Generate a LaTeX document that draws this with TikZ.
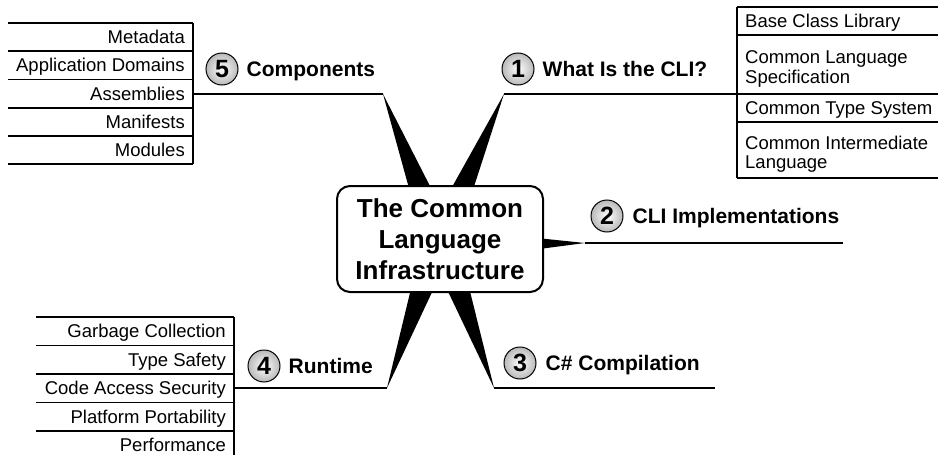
\documentclass[tikz,border=0pt]{standalone}
\usepackage{fontspec}
\setmainfont{Liberation Sans}
\usetikzlibrary{positioning}
\tikzset{
  hub/.style={
    draw,
    line width=2pt,
    rounded corners=13pt,
    fill=white,
    minimum width=206pt,
    minimum height=106pt,
    align=center,
    font=\fontsize{26}{31}\selectfont\bfseries
  },
}
\tikzset{
  num/.style={
    shape=circle,
    draw,
    line width=1pt,
    inner color=white,
    outer color=gray!55,
    minimum size=32pt,
    inner sep=0pt,
    font=\fontsize{25}{25}\selectfont\bfseries
  },
}
\tikzset{
  topic/.style={
    inner sep=0pt,
    text height=15pt,
    text depth=0pt,
    font=\fontsize{21}{21}\selectfont\bfseries
  },
  leafL/.style={
    anchor=east,
    inner sep=0pt,
    text height=13.3pt,
    text depth=0pt,
    font=\fontsize{18.5}{18.5}\selectfont
  },
  leafR/.style={
    anchor=west,
    inner sep=0pt,
    text height=13.3pt,
    text depth=0pt,
    font=\fontsize{18.5}{18.5}\selectfont
  },
  leafRm/.style={
    anchor=west,
    inner sep=0pt,
    align=left,
    font=\fontsize{18.5}{19.5}\selectfont
  },
  branch/.style={
    line width=2pt
  },
  rule/.style={
    line width=1.8pt
  },
  spoke/.style={
    fill=black
  }
}

\begin{document}
\begin{tikzpicture}[x=1pt,y=-1pt]
        \useasboundingbox (0,0) rectangle (938,455);

        \coordinate (mid) at (440,239);
        \coordinate (tip1) at (504,94);
        \coordinate (tip2) at (585,243);
        \coordinate (tip3) at (494,388);
        \coordinate (tip4) at (387,388);
        \coordinate (tip5) at (383,94);
        \coordinate (end1) at (737,94);
        \coordinate (end2) at (843,243);
        \coordinate (end3) at (715,388);
        \coordinate (end4) at (234,388);
        \coordinate (end5) at (193,94);

        % spokes behind the hub
        \fill[spoke] (tip1) -- ([xshift=-17pt]mid) -- ([xshift=17pt]mid) -- cycle;
        \fill[spoke] (tip3) -- ([xshift=-17pt]mid) -- ([xshift=17pt]mid) -- cycle;
        \fill[spoke] (tip4) -- ([xshift=-17pt]mid) -- ([xshift=17pt]mid) -- cycle;
        \fill[spoke] (tip5) -- ([xshift=-17pt]mid) -- ([xshift=17pt]mid) -- cycle;
        \fill[spoke] (tip2) -- ([yshift=11pt]mid) -- ([yshift=-23pt]mid) -- cycle;

        \node[hub] (hub) at (mid) {The Common\\Language\\Infrastructure};

        \draw[branch] (tip1) -- (end1);
        \draw[branch] (tip2) -- (end2);
        \draw[branch] (tip3) -- (end3);
        \draw[branch] (end4) -- (tip4);
        \draw[branch] (end5) -- (tip5);

        \node[num] (n1) at (518,69) {1};
        \node[num] (n2) at (607,216) {2};
        \node[num] (n3) at (520,363) {3};
        \node[num] (n4) at (264,366) {4};
        \node[num] (n5) at (222,69) {5};
        \node[topic, right=8pt of n1] (t1) {What Is the CLI?};
        \node[topic, right=9pt of n2] (t2) {CLI Implementations};
        \node[topic, right=9pt of n3] (t3) {C\# Compilation};
        \node[topic, right=8pt of n4] (t4) {Runtime};
        \node[topic, right=8pt of n5] (t5) {Components};

        % what is the cli
        \foreach \y in {7,35,94,122,178} \draw[rule] (737,\y) -- (938,\y);
        \draw[rule] (737,7) -- (737,178);
        \node[leafR] (w1) at (745,21) {Base Class Library};
        \node[leafRm] (w2) at (745,69) {Common Language\\Specification};
        \node[leafR] (w3) at (745,108) {Common Type System};
        \node[leafRm] (w4) at (745,154) {Common Intermediate\\Language};

        % runtime
        \foreach \i in {0,...,4} \draw[rule] (36,317+28.5*\i) -- (234,317+28.5*\i);
        \draw[rule] (234,317) -- (234,455);
        \foreach \txt [count=\i] in {Garbage Collection,Type Safety,Code Access Security,Platform Portability,Performance}
            \node[leafL] (r\i) at (226,302.75+28.5*\i) {\txt};

        % components
        \foreach \i in {0,...,5} \draw[rule] (8,23+28.2*\i) -- (193,23+28.2*\i);
        \draw[rule] (193,23) -- (193,164);
        \foreach \txt [count=\i] in {Metadata,Application Domains,Assemblies,Manifests,Modules}
            \node[leafL] (c\i) at (185,8.9+28.2*\i) {\txt};
\end{tikzpicture}
\end{document}
